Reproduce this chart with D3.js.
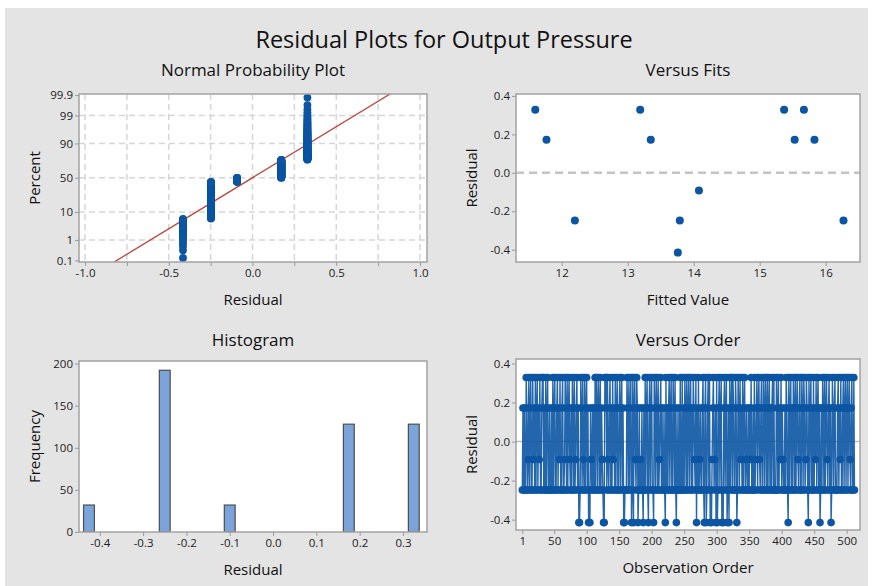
<!DOCTYPE html>
<html>
<head>
<meta charset="utf-8">
<style>
  body { margin: 0; background: #fff; }
  svg { display: block; }
  text { font-family: "Open Sans", sans-serif; fill: #111; }
  .tick text { font-size: 11.5px; fill: #222; }
  .tick line { stroke: #9a9a9a; }
  .domain { display: none; }
</style>
</head>
<body>
<div id="chart-area"></div>
<script src="https://d3js.org/d3.v7.min.js"></script>
<script>
// residual levels, one code letter each
const levelCodes = ["A", "B", "C", "D", "E"];
const levelValues = [0.328, 0.172, -0.092, -0.248, -0.415];

// observation order 1..512, 32 runs per row
const orderRows = [
  "DBDBDDABDCADBADDACBDADBADBCADDBA",
  "ADBDADBADDBDDBDADBADDBADBCADDBAD",
  "DCABDADBACDBDABDADCBADBEEDABDACD",
  "ADBADBEDEBCDBDBDADABDABDADBCDEEA",
  "BADACDBADBDACBDADBADDBADBADBEEDD",
  "DABDADBAEDAEBACDABEDBDCDBDEBDADB",
  "ADEBADBADDEABDABDADCBADBDDBDEADB",
  "DBADBADDABDADEBDDBDADDADBDABDADB",
  "ADBADBDABCDAEBDADCBDDBADEBAEDBAD",
  "AEDECBADCBEAEDBADBAEDEBADBAEDBEA",
  "DBADABDDABEDABDACBDADBADCBDDBDBC",
  "ADDBDADCBADBACDBADDABDABDADBADBD",
  "BADADDDABDADBCADBCDDBDABDEADBADB",
  "DABDADBACDBADDABDABDCABDEADBADBD",
  "ADBCADBADBEDBDABDADBACDBADBEDABD",
  "BADDDBADBCADDBADBADBADBACDBADDAD"
];

// Versus Fits: distinct fitted values and their residuals
const fittedValues = [11.60, 11.77, 12.20, 13.19, 13.35, 13.76, 13.79, 14.08, 15.37, 15.53, 15.67, 15.83, 16.27];
const fittedResiduals = [0.328, 0.172, -0.248, 0.328, 0.172, -0.415, -0.248, -0.092, 0.328, 0.172, 0.328, 0.172, -0.248];

// tick labels
const probTicks = [0.1, 1, 10, 50, 90, 99, 99.9];
const probGrid = [1, 10, 50, 90, 99];
const npX = [-1, -0.75, -0.5, -0.25, 0, 0.25, 0.5, 0.75, 1];
const fitsX = [12, 13, 14, 15, 16];
const resTicks = [-0.4, -0.2, 0, 0.2, 0.4];
const histX = [-0.4, -0.3, -0.2, -0.1, 0, 0.1, 0.2, 0.3];
const histY = [0, 50, 100, 150, 200];
const orderX = [1, 50, 100, 150, 200, 250, 300, 350, 400, 450, 500];

const residuals = orderRows.join("").split("").map(c => levelValues[levelCodes.indexOf(c)]);
const n = residuals.length;

const blue = "#0b55a3";
const fmt1 = d => d3.format(".1f")(d).replace("\u2212", "-");

const svg = d3.select("#chart-area").append("svg")
    .attr("width", 872)
    .attr("height", 586);

svg.append("rect")
    .attr("x", 5).attr("y", 8)
    .attr("width", 863).attr("height", 578)
    .attr("fill", "#e4e4e4");

svg.append("text")
    .attr("x", 444).attr("y", 48)
    .attr("text-anchor", "middle")
    .style("font-size", "23.5px")
    .text("Residual Plots for Output Pressure");

// inverse normal cdf (Acklam)
function probit(p) {
  const a = [-39.69683028665376, 220.9460984245205, -275.9285104469687, 138.3577518672690, -30.66479806614716, 2.506628277459239];
  const b = [-54.47609879822406, 161.5858368580409, -155.6989798598866, 66.80131188771972, -13.28068155288572];
  const c = [-0.007784894002430293, -0.3223964580411365, -2.400758277161838, -2.549732539343734, 4.374664141464968, 2.938163982698783];
  const d = [0.007784695709041462, 0.3224671290700398, 2.445134137142996, 3.754408661907416];
  const tail = q => (((((c[0]*q + c[1])*q + c[2])*q + c[3])*q + c[4])*q + c[5]) / ((((d[0]*q + d[1])*q + d[2])*q + d[3])*q + 1);
  if (p < 0.02425) return tail(Math.sqrt(-2 * Math.log(p)));
  if (p > 1 - 0.02425) return -tail(Math.sqrt(-2 * Math.log(1 - p)));
  const q = p - 0.5, r = q * q;
  return (((((a[0]*r + a[1])*r + a[2])*r + a[3])*r + a[4])*r + a[5]) * q /
         (((((b[0]*r + b[1])*r + b[2])*r + b[3])*r + b[4])*r + 1);
}

let clipId = 0;
function panel(box, title, titleY, xLabel, yLabel) {
  const g = svg.append("g");
  g.append("rect")
      .attr("x", box.x0).attr("y", box.y0)
      .attr("width", box.x1 - box.x0).attr("height", box.y1 - box.y0)
      .attr("fill", "#fff");
  g.append("text")
      .attr("x", (box.x0 + box.x1) / 2).attr("y", titleY)
      .attr("text-anchor", "middle")
      .style("font-size", "17px")
      .text(title);
  g.append("text")
      .attr("x", (box.x0 + box.x1) / 2).attr("y", box.y1 + 43)
      .attr("text-anchor", "middle")
      .style("font-size", "15px")
      .text(xLabel);
  g.append("text")
      .attr("transform", `translate(${box.x0 - 44}, ${(box.y0 + box.y1) / 2}) rotate(-90)`)
      .attr("dy", "0.35em")
      .attr("text-anchor", "middle")
      .style("font-size", "15px")
      .text(yLabel);
  const id = "clip" + (clipId++);
  g.append("clipPath").attr("id", id)
    .append("rect")
      .attr("x", box.x0).attr("y", box.y0)
      .attr("width", box.x1 - box.x0).attr("height", box.y1 - box.y0);
  const plot = g.append("g");
  const inner = plot.append("g").attr("clip-path", `url(#${id})`);
  return { g, plot, inner, box };
}

function frame(p) {
  p.g.append("rect")
      .attr("x", p.box.x0).attr("y", p.box.y0)
      .attr("width", p.box.x1 - p.box.x0).attr("height", p.box.y1 - p.box.y0)
      .attr("fill", "none")
      .attr("stroke", "#a3a3a3")
      .attr("stroke-width", 1.5);
}

function axes(p, x, y, xTicks, xFmt, yTicks, yFmt) {
  p.g.append("g")
      .attr("transform", `translate(0, ${p.box.y1})`)
      .call(d3.axisBottom(x).tickValues(xTicks).tickFormat(xFmt).tickSize(4).tickSizeOuter(0).tickPadding(3));
  p.g.append("g")
      .attr("transform", `translate(${p.box.x0}, 0)`)
      .call(d3.axisLeft(y).tickValues(yTicks).tickFormat(yFmt).tickSize(4).tickSizeOuter(0).tickPadding(2));
}

// ---- Normal Probability Plot
{
  const p = panel({ x0: 79, x1: 427, y0: 94, y1: 262 }, "Normal Probability Plot", 76, "Residual", "Percent");
  const x = d3.scaleLinear().domain([-1.036, 1.042]).range([79, 427]);
  const z = d3.scaleLinear().domain([-3.15, 3.13]).range([262, 94]);
  const pz = d => probit(d / 100);

  p.inner.selectAll(".vg").data(npX).join("line")
      .attr("x1", d => x(d)).attr("x2", d => x(d))
      .attr("y1", 94).attr("y2", 262)
      .attr("stroke", "#d6d6d6").attr("stroke-width", 1.5).attr("stroke-dasharray", "6,4");
  p.inner.selectAll(".hg").data(probGrid).join("line")
      .attr("x1", 79).attr("x2", 427)
      .attr("y1", d => z(pz(d))).attr("y2", d => z(pz(d)))
      .attr("stroke", "#d6d6d6").attr("stroke-width", 1.5).attr("stroke-dasharray", "6,4");

  const sorted = residuals.slice().sort(d3.ascending);
  const mean = d3.mean(residuals), sd = d3.deviation(residuals);
  p.inner.append("line")
      .attr("x1", x(mean - 3.6 * sd)).attr("y1", z(-3.6))
      .attr("x2", x(mean + 3.6 * sd)).attr("y2", z(3.6))
      .attr("stroke", "#b9473d").attr("stroke-width", 1.3);

  p.plot.selectAll("circle").data(sorted).join("circle")
      .attr("cx", d => x(d))
      .attr("cy", (d, i) => z(probit((i + 1 - 0.3) / (n + 0.4))))
      .attr("r", 3.9)
      .attr("fill", blue);

  frame(p);
  axes(p, x, z, npX, d => (Math.abs(d * 2 - Math.round(d * 2)) < 1e-9 ? fmt1(d) : ""),
       probTicks.map(pz), (d, i) => String(probTicks[i]));
}

// ---- Versus Fits
{
  const p = panel({ x0: 516, x1: 860, y0: 94, y1: 262 }, "Versus Fits", 76, "Fitted Value", "Residual");
  const x = d3.scaleLinear().domain([11.308, 16.52]).range([516, 860]);
  const y = d3.scaleLinear().domain([-0.464, 0.41]).range([262, 94]);

  p.inner.append("line")
      .attr("x1", 516).attr("x2", 860)
      .attr("y1", y(0)).attr("y2", y(0))
      .attr("stroke", "#c4c4c4").attr("stroke-width", 2.5).attr("stroke-dasharray", "8,5");

  p.plot.selectAll("circle").data(fittedValues).join("circle")
      .attr("cx", d => x(d))
      .attr("cy", (d, i) => y(fittedResiduals[i]))
      .attr("r", 4)
      .attr("fill", blue);

  frame(p);
  axes(p, x, y, fitsX, d => String(d), resTicks, fmt1);
}

// ---- Histogram
{
  const p = panel({ x0: 79, x1: 427, y0: 361, y1: 532 }, "Histogram", 346, "Residual", "Frequency");
  const x = d3.scaleLinear().domain([-0.448, 0.3555]).range([79, 427]);
  const y = d3.scaleLinear().domain([0, 203]).range([532, 361]);

  const edges = d3.range(-0.4375, 0.35, 0.025);
  const bins = d3.bin().domain([-0.4375, 0.3375]).thresholds(edges)(residuals);

  p.inner.selectAll("rect").data(bins.filter(b => b.length > 0)).join("rect")
      .attr("x", b => x(b.x0))
      .attr("y", b => y(b.length))
      .attr("width", b => x(b.x1) - x(b.x0))
      .attr("height", b => y(0) - y(b.length))
      .attr("fill", "#7ba5da")
      .attr("stroke", "#4d4d4d")
      .attr("stroke-width", 1.2);

  frame(p);
  axes(p, x, y, histX, fmt1, histY, d => String(d));
}

// ---- Versus Order
{
  const p = panel({ x0: 516, x1: 860, y0: 359, y1: 530 }, "Versus Order", 346, "Observation Order", "Residual");
  const x = d3.scaleLinear().domain([-8.7, 520.5]).range([516, 860]);
  const y = d3.scaleLinear().domain([-0.453, 0.423]).range([530, 359]);

  p.inner.append("line")
      .attr("x1", 516).attr("x2", 860)
      .attr("y1", y(0)).attr("y2", y(0))
      .attr("stroke", "#bdbdbd").attr("stroke-width", 1.5);

  const line = d3.line().x((d, i) => x(i + 1)).y(d => y(d));
  p.plot.append("path")
      .attr("d", line(residuals))
      .attr("fill", "none")
      .attr("stroke", blue)
      .attr("stroke-width", 1.4)
      .attr("stroke-opacity", 0.9);

  p.plot.selectAll("circle").data(residuals).join("circle")
      .attr("cx", (d, i) => x(i + 1))
      .attr("cy", d => y(d))
      .attr("r", 3.8)
      .attr("fill", blue);

  frame(p);
  axes(p, x, y, orderX, d => String(d), resTicks, fmt1);
}
</script>
</body>
</html>
